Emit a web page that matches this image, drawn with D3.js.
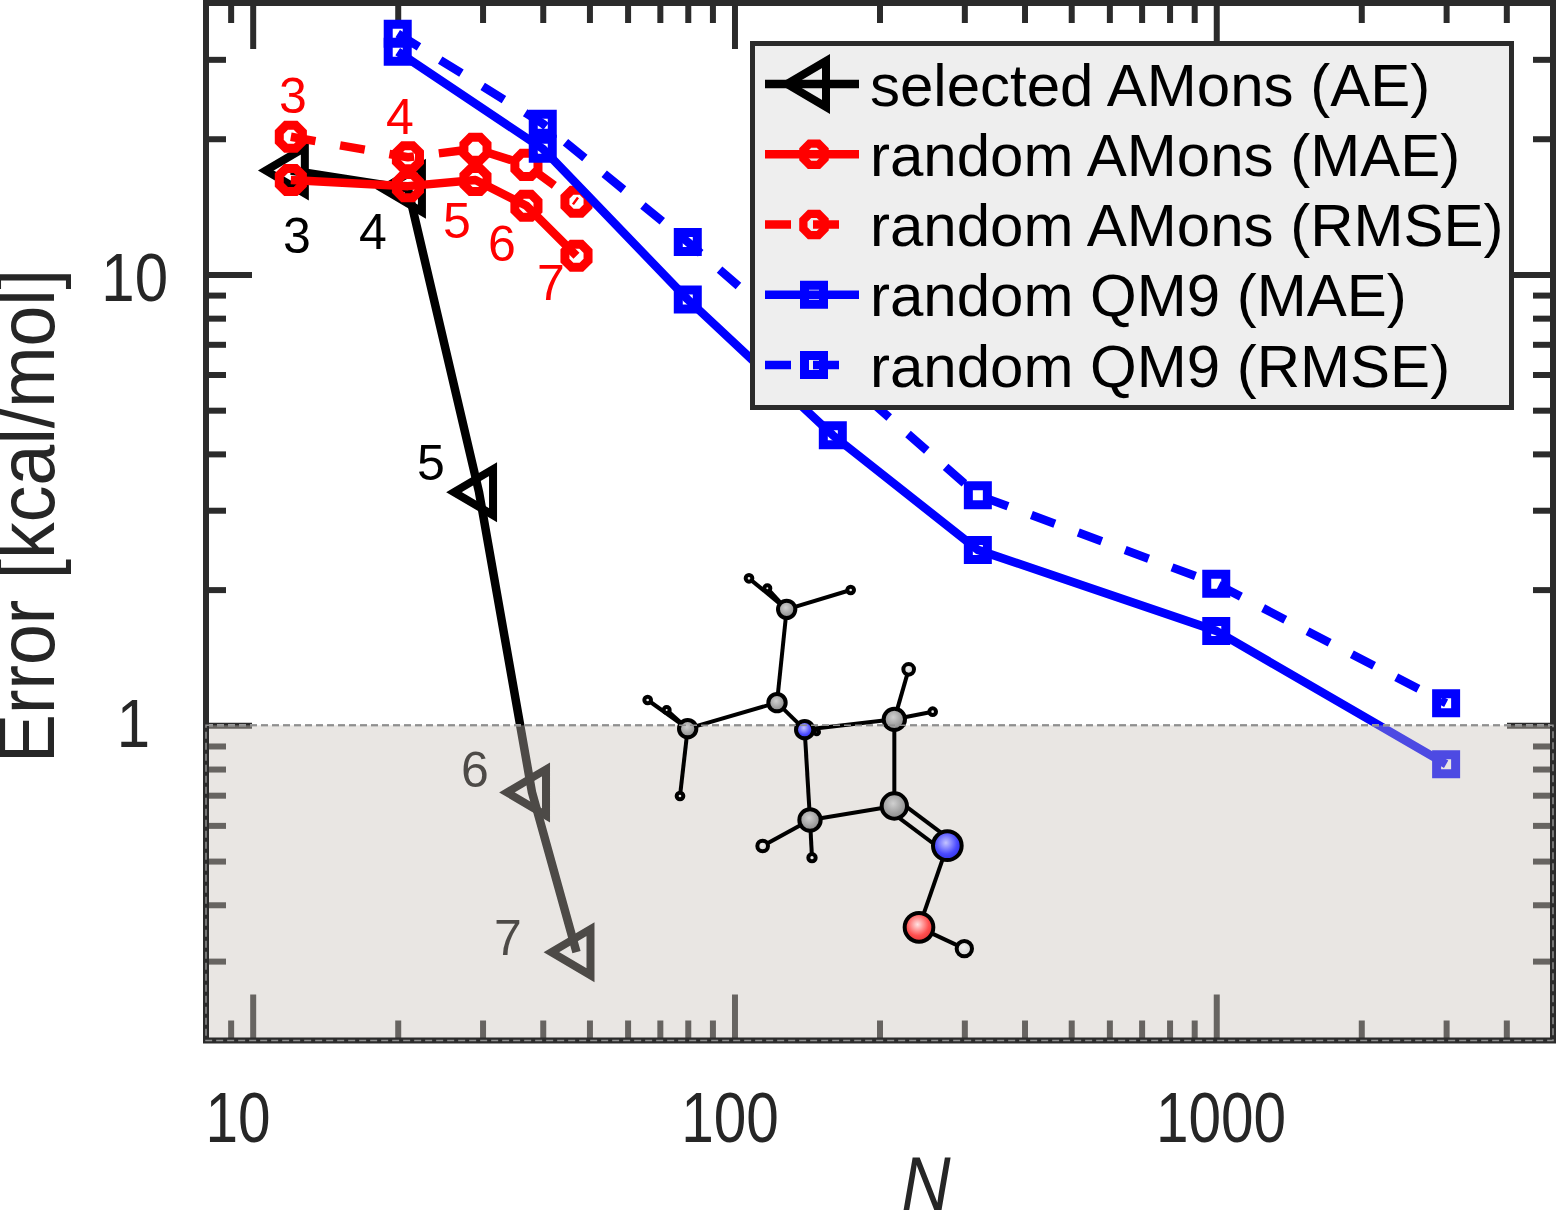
<!DOCTYPE html>
<html><head><meta charset="utf-8">
<script src="https://cdnjs.cloudflare.com/ajax/libs/d3/7.8.5/d3.min.js"></script>
<style>html,body{margin:0;padding:0;background:#fff}svg{display:block}text{font-family:"Liberation Sans",Arial,sans-serif}</style>
</head><body><svg id="c" width="1556" height="1210"></svg>
<script>
// ---- data ----
const nSelected=[12,21,29.5,38,47];
const selectedAE=[17.0,15.5,3.29,0.71,0.314];
const nAmons=[12,21,29,37,47];
const amonsMAE=[16.2,15.7,16.2,14.2,11.0];
const amonsRMSE=[20.2,18.2,19.0,17.5,14.5];
const nQM9=[20,40,80,160,320,1000,3000];
const qm9MAE=[31.2,19.0,8.8,4.4,2.45,1.62,0.82];
const qm9RMSE=[34.2,21.6,11.8,6.2,3.24,2.06,1.12];
const legendLabels=["selected AMons (AE)","random AMons (MAE)","random AMons (RMSE)","random QM9 (MAE)","random QM9 (RMSE)"];
const amonLabels=["3","4","5","6","7"];
const xMajor=[10,100,1000];
const xMinor=[9,20,30,40,50,60,70,80,90,200,300,400,500,600,700,800,900,2000,3000,4000];
const yMajor=[1,10];
const yMinor=[0.3,0.4,0.5,0.6,0.7,0.8,0.9,2,3,4,5,6,7,8,9,20,30];

// ---- molecule inset: local drawing units ----
const atoms=[
 ["H",560,516,13],["H",412,85,15],["H",110,450,15],
 ["C",470,148,32],["H",357,55,16],["H",662,90,16],
 ["C",441,428,32],["C",173,506,32],["H",53,420,16],["H",150,708,16],
 ["N",524,509,32],["C",793,478,38],["H",836,328,22],["H",908,455,16],
 ["C",793,738,44],["C",540,780,38],["H",398,858,22],["H",546,893,17],
 ["N",952,857,49],["O",867,1102,49],["H",1003,1166,29]];
const bonds=[[3,1],[3,4],[3,5],[3,6],[6,7],[7,2],[7,8],[7,9],[6,10],[10,0],[10,11],[11,12],[11,13],[11,14],[14,15],[15,10],[15,16],[15,17],[18,19],[19,20]];

const svg=d3.select("#c");
const x=d3.scaleLog().domain([8,5000]).range([206,1553]);
const y=d3.scaleLog().domain([0.2,40]).range([1040.5,3]);
const ink="#2b2b2b", txt="#262626";
const line=d3.line().x(d=>x(d[0])).y(d=>y(d[1]));

// axes (mirrored, inward ticks)
function ax(gen,tr,vals,len){
  const g=svg.append("g").attr("transform",tr).call(gen.tickValues(vals).tickSize(-len).tickFormat(""));
  g.select(".domain").remove();
  g.selectAll("line").attr("stroke",ink).attr("stroke-width",6);
}
const bT=`translate(0,${y.range()[0]})`,tT=`translate(0,${y.range()[1]})`,lT=`translate(${x.range()[0]},0)`,rT=`translate(${x.range()[1]},0)`;
[[xMinor,20],[xMajor,46]].forEach(([v,l])=>{ax(d3.axisBottom(x),bT,v,l);ax(d3.axisTop(x),tT,v,l);});
[[yMinor,20],[yMajor,46]].forEach(([v,l])=>{ax(d3.axisLeft(y),lT,v,l);ax(d3.axisRight(y),rT,v,l);});

// marker shapes
const octagon=r=>{const p=d3.path();d3.range(8).forEach(i=>{const a=Math.PI/8+i*Math.PI/4;i?p.lineTo(r*Math.cos(a),r*Math.sin(a)):p.moveTo(r*Math.cos(a),r*Math.sin(a));});p.closePath();return p.toString();};
const square=s=>{const p=d3.path();p.rect(-s/2,-s/2,s,s);return p.toString();};
const triangle=()=>{const p=d3.path();p.moveTo(-25,0);p.lineTo(14,-23);p.lineTo(14,23);p.closePath();return p.toString();};
const styles={
 tri:{c:"#000",d:triangle(),w:8},
 oct:{c:"#f00",d:octagon(12.5),w:9},
 sq:{c:"#00f",d:square(19),w:9}};
function series(xs,ys,st,dash){
  const pts=xs.map((v,i)=>[v,ys[i]]);
  svg.append("path").datum(pts).attr("d",line).attr("fill","none").attr("stroke",st.c).attr("stroke-width",8.5)
    .attr("stroke-dasharray",dash?"25 25":null).attr("stroke-linejoin","round");
  svg.append("g").selectAll("path").data(pts).join("path").attr("d",st.d)
    .attr("transform",d=>`translate(${x(d[0])},${y(d[1])})`)
    .attr("fill","none").attr("stroke",st.c).attr("stroke-width",st.w).attr("stroke-miterlimit",10);
}
series(nSelected,selectedAE,styles.tri,false);
series(nAmons,amonsMAE,styles.oct,false);
series(nAmons,amonsRMSE,styles.oct,true);
series(nQM9,qm9MAE,styles.sq,false);
series(nQM9,qm9RMSE,styles.sq,true);

// number annotations
const blackPos=[[297,253],[373,249],[431,480],[475,787],[508,955]];
const redPos=[[293,113],[400,134],[457,238],[502,261],[551,300]];
amonLabels.forEach((t,i)=>{
  svg.append("text").attr("x",blackPos[i][0]).attr("y",blackPos[i][1]).attr("text-anchor","middle").attr("font-size",50).attr("fill","#000").text(t);
  svg.append("text").attr("x",redPos[i][0]).attr("y",redPos[i][1]).attr("text-anchor","middle").attr("font-size",50).attr("fill","#f00").text(t);
});

// translucent band below 1 kcal/mol
svg.append("rect").attr("x",x.range()[0]).attr("y",y(1)).attr("width",x.range()[1]-x.range()[0]).attr("height",y.range()[0]-y(1))
  .attr("fill","rgb(198,190,183)").attr("fill-opacity",0.39)
  .attr("stroke","#a6a6a6").attr("stroke-width",2.5).attr("stroke-dasharray","7 4");

// tick labels (the reference's lettering is slightly stretched vertically)
const xLab=[[10,238],[100,730],[1000,1221]];
xLab.forEach(([v,px])=>svg.append("text").attr("transform",`translate(${px},1141.5) scale(1,1.19)`).attr("text-anchor","middle").attr("font-size",58.5).attr("fill",txt).text(v));
const yLab=[[10,168,301],[1,150,747]];
yLab.forEach(([v,px,py])=>svg.append("text").attr("transform",`translate(${px},${py}) scale(1,1.14)`).attr("text-anchor","end").attr("font-size",60).attr("fill",txt).text(v));
svg.append("text").attr("transform","translate(53.5,516) rotate(-90) scale(1,1.08)").attr("text-anchor","middle").attr("font-size",73.5).attr("fill",txt).text("Error [kcal/mol]");
svg.append("text").attr("transform","translate(926,1210) scale(1,1.12)").attr("text-anchor","middle").attr("font-size",68).attr("font-style","italic").attr("fill",txt).text("N");

// legend
const lg=svg.append("g");
lg.append("rect").attr("x",752.5).attr("y",43.5).attr("width",759).attr("height",364).attr("fill","#eeeeee").attr("stroke",ink).attr("stroke-width",5);
const lgSt=[[styles.tri,false,1],[styles.oct,false,0.92],[styles.oct,true,0.92],[styles.sq,false,1],[styles.sq,true,1]];
const lgY=d3.scalePoint().domain(d3.range(5)).range([84,365]);
legendLabels.forEach((t,i)=>{
  const [st,dash,scale]=lgSt[i],yy=lgY(i);
  lg.append("line").attr("x1",765).attr("x2",859).attr("y1",yy).attr("y2",yy).attr("stroke",st.c).attr("stroke-width",8.5).attr("stroke-dasharray",dash?"26 22":null);
  lg.append("path").attr("d",st.d).attr("transform",`translate(${i===0?812:814},${yy}) scale(${scale})`).attr("fill","none").attr("stroke",st.c).attr("stroke-width",st.w).attr("stroke-miterlimit",10);
  lg.append("text").attr("x",870).attr("y",yy+21.5).attr("font-size",60).attr("fill","#000").text(t);
});

// molecule
const mx=d3.scaleLinear().domain([0,1050]).range([630,980]);
const my=d3.scaleLinear().domain([0,1230]).range([560,970]);
const defs=svg.append("defs");
const grads={C:["#d0d0d0","#a0a0a0","#868686"],N:["#c4c4ff","#4a4aff","#2a2ae0"],O:["#ffe4e4","#ff5050","#e03030"],H:["#f0f0f0","#dadada","#c4c4c4"]};
Object.entries(grads).forEach(([k,c])=>{
  const g=defs.append("radialGradient").attr("id","g"+k).attr("cx","45%").attr("cy","40%").attr("r","65%");
  c.forEach((col,i)=>g.append("stop").attr("offset",[0,0.6,1][i]).attr("stop-color",col));
});
const mol=svg.append("g");
mol.selectAll("line.b").data(bonds).join("line").attr("class","b")
  .attr("x1",d=>mx(atoms[d[0]][1])).attr("y1",d=>my(atoms[d[0]][2]))
  .attr("x2",d=>mx(atoms[d[1]][1])).attr("y2",d=>my(atoms[d[1]][2]))
  .attr("stroke","#000").attr("stroke-width",4);
[-1,1].forEach(s=>mol.append("line")
  .attr("x1",mx(atoms[14][1]+s*12)).attr("y1",my(atoms[14][2]-s*16))
  .attr("x2",mx(atoms[18][1]+s*12)).attr("y2",my(atoms[18][2]-s*16))
  .attr("stroke","#000").attr("stroke-width",4));
mol.selectAll("circle").data(atoms).join("circle")
  .attr("cx",d=>mx(d[1])).attr("cy",d=>my(d[2])).attr("r",d=>(d[3]-6)/3)
  .attr("fill",d=>`url(#g${d[0]})`).attr("stroke","#000").attr("stroke-width",4);

// frame above the band
svg.append("rect").attr("x",x.range()[0]).attr("y",y.range()[1]).attr("width",x.range()[1]-x.range()[0]).attr("height",y.range()[0]-y.range()[1])
  .attr("fill","none").attr("stroke",ink).attr("stroke-width",6);
svg.append("rect").attr("x",x.range()[0]).attr("y",y(1)).attr("width",x.range()[1]-x.range()[0]).attr("height",y.range()[0]-y(1))
  .attr("fill","none").attr("stroke","#8f8f8f").attr("stroke-width",1.5).attr("stroke-dasharray","7 4");
</script></body></html>
